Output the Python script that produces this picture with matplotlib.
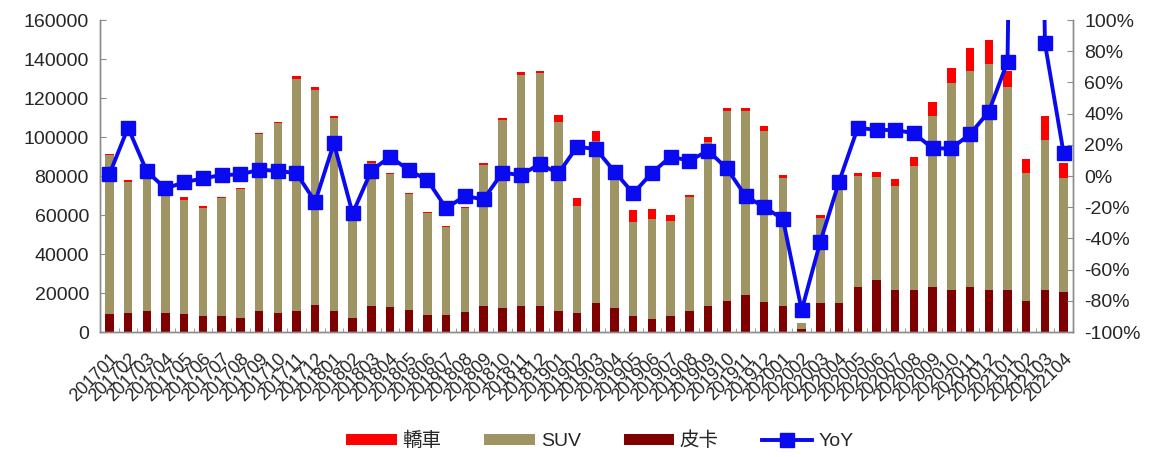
import matplotlib
matplotlib.use("Agg")
import matplotlib.pyplot as plt
from matplotlib.ticker import FuncFormatter, MultipleLocator
from matplotlib.transforms import ScaledTranslation
import numpy as np

plt.rcParams['font.family'] = ['Liberation Sans', 'Noto Sans CJK TC']

# 月份
months = ['201701', '201702', '201703', '201704', '201705', '201706', '201707', '201708',
          '201709', '201710', '201711', '201712', '201801', '201802', '201803', '201804',
          '201805', '201806', '201807', '201808', '201809', '201810', '201811', '201812',
          '201901', '201902', '201903', '201904', '201905', '201906', '201907', '201908',
          '201909', '201910', '201911', '201912', '202001', '202002', '202003', '202004',
          '202005', '202006', '202007', '202008', '202009', '202010', '202011', '202012',
          '202101', '202102', '202103', '202104']

# 皮卡
pickup = [9400, 9900, 11000, 9900, 9400, 8000, 8000, 7200, 11000, 9900, 11000, 14000,
          11000, 7200, 13100, 12600, 11400, 8900, 8900, 10300, 13100, 12300, 13100, 13100,
          11000, 10000, 14900, 12300, 8000, 6800, 8000, 11000, 13500, 15700, 19100, 15200,
          13500, 1500, 15000, 15000, 23100, 26800, 21300, 21300, 23100, 21300, 23100, 21700,
          21700, 15700, 21700, 20300]

# SUV
suv = [81500, 66800, 71300, 62400, 58300, 55700, 60500, 65900, 90300, 97100, 118900, 110100,
       98800, 53300, 73400, 68400, 59200, 52200, 44800, 53100, 72800, 96600, 118500, 119800,
       96900, 54700, 83000, 68200, 48400, 51300, 48800, 58400, 84000, 97700, 94300, 87800,
       65300, 3000, 43700, 61000, 56900, 52700, 53700, 63700, 87600, 106600, 110500, 115700,
       103800, 66000, 76900, 58900]

# 轎車
sedan = [500, 1000, 700, 700, 1500, 700, 700, 700, 700, 700, 1500, 1500,
         800, 500, 1000, 800, 700, 700, 500, 700, 800, 800, 1500, 1200,
         3500, 4000, 5000, 1500, 6000, 5000, 3400, 1000, 2500, 1500, 1500, 2800,
         1500, 300, 1500, 1000, 1500, 2500, 3500, 5000, 7500, 7500, 12000, 12500,
         8500, 7000, 12000, 7500]

# 同比 (%)
yoy = [1, 31, 3, -8, -4, -1.5, 0.6, 1, 4, 3.4, 1.7, -16.5,
       21, -24, 3.4, 12.4, 3.8, -2.6, -20.7, -12.8, -15, 2.1, 0.6, 7.7,
       1.7, 18.8, 17.3, 2.8, -11.1, 2.1, 12.4, 9.8, 16.2, 4.9, -12.8, -20,
       -27.6, -86, -42, -3.6, 31, 29.5, 29.5, 27.4, 17.7, 17.7, 26.9, 41.2,
       73.3, 900, 85, 14.5]

x = np.arange(len(months))
pickup = np.array(pickup)
suv = np.array(suv)
sedan = np.array(sedan)

c_sedan = '#FF0000'
c_suv = '#9E9464'
c_pickup = '#7F0000'
c_line = '#0A0AF0'
c_axis = '#8C8C8C'
c_text = '#262626'

fig = plt.figure(figsize=(11.6, 4.57), dpi=100)
ax = fig.add_axes([0.0862, 0.2735, 0.8388, 0.6827])

w = 0.45
b_pick = ax.bar(x, pickup, w, color=c_pickup, label='皮卡', zorder=2)
b_suv = ax.bar(x, suv, w, bottom=pickup, color=c_suv, label='SUV', zorder=2)
b_sed = ax.bar(x, sedan, w, bottom=pickup + suv, color=c_sedan, label='轎車', zorder=2)

ax.set_xlim(-0.5, len(months) - 0.5)
ax.set_ylim(0, 160000)
ax.yaxis.set_major_locator(MultipleLocator(20000))
ax.set_xticks(x)
ax.set_xticklabels(months, rotation=45, ha='right', rotation_mode='anchor',
                   fontsize=13, color=c_text)
# 标签稍微左移
shift = ScaledTranslation(-4 / 72, 0, fig.dpi_scale_trans)
for lbl in ax.get_xticklabels():
    lbl.set_transform(lbl.get_transform() + shift)
ax.set_xticks(np.arange(-0.5, len(months), 1), minor=True)
ax.tick_params(axis='x', which='major', length=0, pad=13)
ax.tick_params(axis='x', which='minor', length=3, direction='in', color=c_axis)
ax.tick_params(axis='y', direction='in', length=4, color=c_axis, labelsize=14,
               labelcolor=c_text, pad=8)

ax2 = ax.twinx()
ln, = ax2.plot(x, np.array(yoy) / 100, color=c_line, lw=2.8, marker='s', ms=9.5,
               label='YoY', zorder=3)
ax2.set_ylim(-1, 1)
ax2.yaxis.set_major_locator(MultipleLocator(0.2))
ax2.yaxis.set_major_formatter(FuncFormatter(lambda v, p: f'{v * 100:.0f}%'))
ax2.tick_params(axis='y', direction='in', length=4, color=c_axis, labelsize=14,
                labelcolor=c_text, pad=8)

for a in (ax, ax2):
    a.spines['top'].set_visible(False)
    for s in ('left', 'right', 'bottom'):
        a.spines[s].set_color(c_axis)
        a.spines[s].set_linewidth(1)

fig.legend([b_sed, b_suv, b_pick, ln], ['轎車', 'SUV', '皮卡', 'YoY'],
           loc='center', bbox_to_anchor=(0.517, 0.035), ncol=4, frameon=False,
           fontsize=14, handlelength=2.6, handleheight=0.5, columnspacing=2.2,
           handletextpad=0.3, labelcolor=c_text)

fig.savefig('out.png', dpi=100)
